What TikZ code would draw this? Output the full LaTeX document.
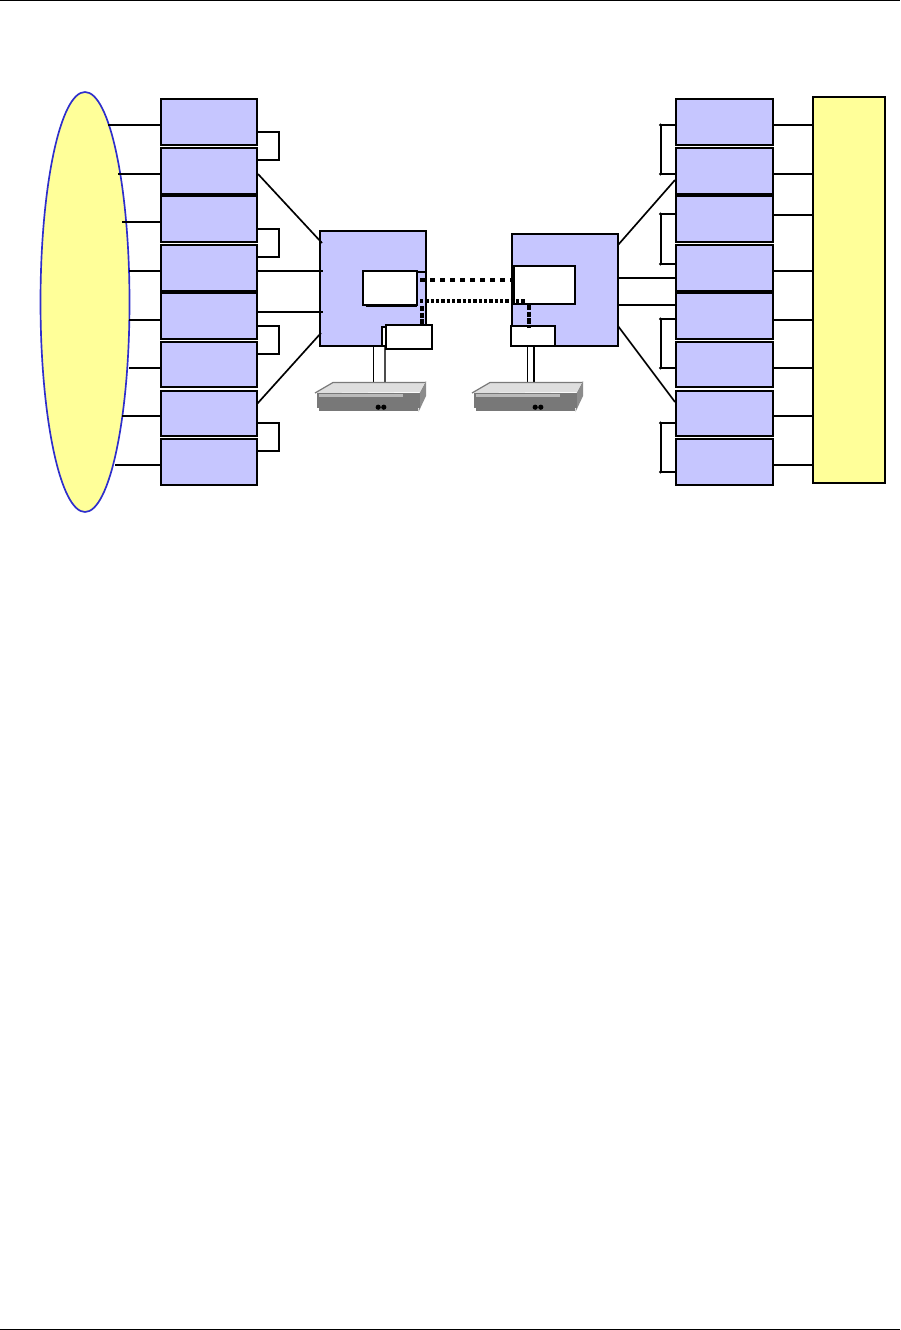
\documentclass[tikz,border=0pt]{standalone}
\usetikzlibrary{shapes.geometric}
\definecolor{boxblue}{HTML}{C6C6FF}
\definecolor{paleyellow}{HTML}{FFFF99}
\definecolor{ellblue}{HTML}{2E2ECC}
\tikzset{
  x=0.75pt,y=-0.75pt,
  wire/.style={black,line width=1.25pt},
  bracket/.style={black,line width=1.5pt},
  cable/.style={black,line width=0.95pt},
  framed/.style={draw=black,line width=1.5pt,inner sep=0pt,outer sep=0pt,rectangle},
  panel/.style={framed,fill=boxblue},
  whitebox/.style={framed,fill=white},
  yellowbox/.style={framed,fill=paleyellow},
  heavy/.style={black,line width=2.1pt},
  bigdash/.style={black,line width=3.1pt,dash pattern=on 4.1pt off 3.4pt},
  smalldash/.style={black,line width=3.1pt,dash pattern=on 2.6pt off 1.4pt},
  vertdash/.style={black,line width=3.1pt,dash pattern=on 4pt off 1pt},
}
% style, name, x1, y1, x2, y2 (in reference pixels)
\newcommand{\boxnode}[6]{%
  \pgfmathsetmacro\bw{(#5-#3)*0.75}%
  \pgfmathsetmacro\bh{(#6-#4)*0.75}%
  \node[#1,minimum width=\bw pt,minimum height=\bh pt] (#2) at ({(#3+#5)/2},{(#4+#6)/2}) {};}
\newcommand{\devicedraw}[1]{%
  \begin{scope}[shift={(#1,0)}]
    \fill[black!45] (420,392) -- (426,381) -- (426,396) -- (418.5,412) -- cycle;
    \fill[black!13] (315,393) -- (333,382.5) -- (425,382.5) -- (420,392) -- cycle;
    \draw[black!52,line width=0.9pt] (315,393) -- (333,382.5) -- (425,382.5);
    \fill[black!53] (317,392.5) rectangle (420,408);
    \fill[black!53] (319,408) rectangle (418,411);
    \fill[black!27] (319,394) rectangle (403,397);
    \fill[black] (378.2,407.2) circle (2.6);
    \fill[black] (383.8,407.2) circle (2.6);
  \end{scope}}
\begin{document}
\begin{tikzpicture}
\useasboundingbox (0,0) rectangle (900,1330);
\fill[white] (0,0) rectangle (900,1330);
\coordinate (ruleTL) at (0,0.5); \coordinate (ruleTR) at (900,0.5);
\coordinate (ruleBL) at (0,1329.5); \coordinate (ruleBR) at (900,1329.5);
\draw[black,line width=0.8pt] (ruleTL) -- (ruleTR);
\draw[black,line width=0.8pt] (ruleBL) -- (ruleBR);

% Ellipse and yellow rectangle
\node[ellipse,draw=ellblue,fill=paleyellow,line width=1.25pt,inner sep=0pt,outer sep=0pt,
      minimum width=66.75pt,minimum height=315pt] (cloud) at (85,302) {};
\boxnode{yellowbox}{yrect}{813}{97}{885}{483}

% Side boxes
\foreach \n/\ya/\yb in {1/99/145,2/148/194,3/196/242,4/245/291,5/293/339,6/342/387,7/390.5/436,8/439/485}{
  \boxnode{panel}{L\n}{161}{\ya}{257}{\yb}
  \boxnode{panel}{R\n}{676}{\ya}{773}{\yb}
}
\draw[heavy] (L2.south west) -- (L2.south east);
\draw[heavy] (L4.south west) -- (L4.south east);
\draw[heavy] (R2.south west) -- (R2.south east);
\draw[heavy] (R4.south west) -- (R4.south east);

% Connectors: ellipse to left boxes
\foreach \n/\xa/\ya in {1/108/125,2/118/174,3/122/222,4/129/271,5/129/320,6/129/368,7/122/416,8/115/465}{
  \coordinate (e\n) at (\xa,\ya);
  \draw[wire] (e\n) -- (e\n -| L\n.west);
}
% Connectors: right boxes to yellow rectangle
\foreach \n/\ya in {1/125,2/174,3/215,4/271,5/320,6/368,7/416,8/465}{
  \coordinate (r\n) at (773,\ya);
  \draw[wire] (r\n) -- (r\n -| yrect.west);
}

% Brackets, left column
\foreach \n/\ya/\yb in {1/132/160,3/229/257,5/326/354,7/423/451}{
  \coordinate (ba\n) at (257,\ya); \coordinate (bb\n) at (257,\yb);
  \draw[bracket] (ba\n) -- (279,\ya) -- (279,\yb) -- (bb\n);
}
% Brackets, right column
\foreach \n/\ya/\yb in {1/125/174,3/214/264,5/319/368,7/423/472}{
  \coordinate (ca\n) at (677,\ya); \coordinate (cb\n) at (677,\yb);
  \draw[bracket] (ca\n) -- (660.5,\ya) -- (660.5,\yb) -- (cb\n);
  \fill[black] (660.5,\ya) circle (1.7);
  \fill[black] (660.5,\yb) circle (1.7);
}

% Central panels
\boxnode{panel}{ML}{320}{231}{426}{346}
\boxnode{panel}{MR}{512}{234}{618}{346}

% Panel links
\coordinate (a1) at (258,174); \coordinate (a2) at (322,243);
\coordinate (a3) at (257,271); \coordinate (a4) at (323,271);
\coordinate (a5) at (257,312); \coordinate (a6) at (323,312);
\coordinate (a7) at (257,404); \coordinate (a8) at (321,333);
\coordinate (b1) at (618,245); \coordinate (b2) at (675,180);
\coordinate (b3) at (618,278); \coordinate (b4) at (676,278);
\coordinate (b5) at (618,305); \coordinate (b6) at (676,305);
\coordinate (b7) at (618,326); \coordinate (b8) at (675,402);
\foreach \p/\q in {a1/a2,a3/a4,a5/a6,a7/a8,b1/b2,b3/b4,b5/b6,b7/b8}
  \draw[wire] (\p) -- (\q);

% Cables to devices
\coordinate (cl1) at (373.5,346); \coordinate (cl2) at (373.5,382);
\coordinate (cl3) at (385,346);   \coordinate (cl4) at (385,382);
\coordinate (cr1) at (527.5,346); \coordinate (cr2) at (527.5,382);
\coordinate (cr3) at (534,346);   \coordinate (cr4) at (534,382);
\draw[cable] (cl1) -- (cl2);
\draw[cable,black!70] (cl3) -- (cl4);
\draw[wire] (cr1) -- (cr2);
\draw[wire] (cr3) -- (cr4);

% Inner boxes
\coordinate (s1) at (417,272); \coordinate (s2) at (426,272);
\coordinate (s3) at (366,306); \coordinate (s4) at (417,306);
\coordinate (s5) at (513,266); \coordinate (s6) at (513,305);
\draw[wire] (s1) -- (s2);
\draw[black,line width=1.7pt] (s3) -- (s4);
\boxnode{whitebox}{WL}{363}{271}{417}{305}
\draw[black,line width=2.4pt] (s5) -- (s6);
\boxnode{whitebox}{WR}{513.5}{266}{575}{304}
\boxnode{whitebox}{SB}{382}{327}{392}{346}
\boxnode{whitebox}{SL}{386}{325}{432}{349}
\boxnode{whitebox}{SR}{511}{326}{555}{346}

% Dashed links
\coordinate (d1) at (420,280);  \coordinate (d2) at (516,280);
\coordinate (d3) at (420,301);  \coordinate (d4) at (526,301);
\coordinate (d5) at (422,306);  \coordinate (d6) at (422,325);
\coordinate (d7) at (529,305);  \coordinate (d8) at (529,328);
\draw[bigdash] (d1) -- (d2);
\draw[smalldash] (d3) -- (d4);
\draw[vertdash] (d5) -- (d6);
\draw[vertdash] (d7) -- (d8);

% Devices
\devicedraw{0}
\devicedraw{157}
\end{tikzpicture}
\end{document}
